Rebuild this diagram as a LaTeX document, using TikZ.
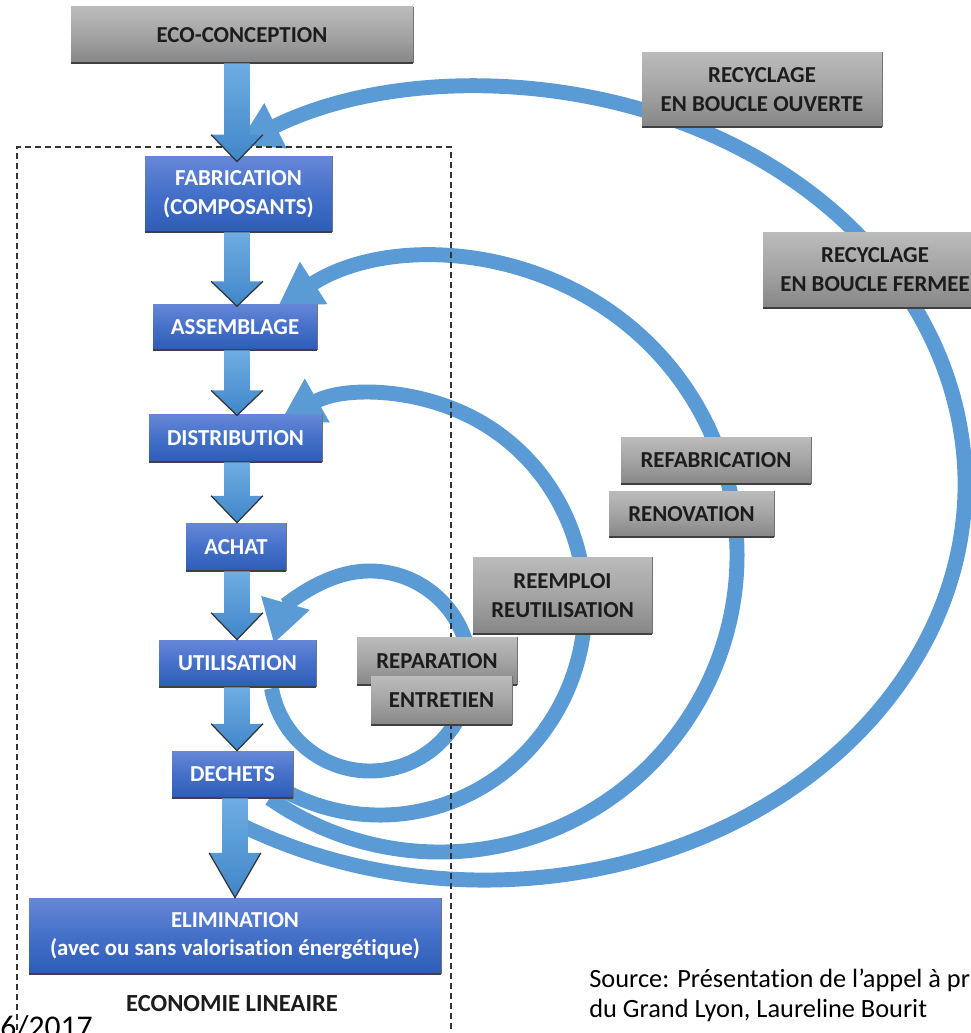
\documentclass[tikz,border=0pt]{standalone}
\usepackage{fontspec}
\setmainfont{Carlito}[Ligatures=NoCommon]
\usetikzlibrary{arrows.meta,calc}
\definecolor{arcblue}{HTML}{5B9BD5}
\definecolor{bluetop}{HTML}{6687D8}
\definecolor{bluemid}{HTML}{4470C8}
\definecolor{bluebot}{HTML}{2D5CB6}
\definecolor{graytop}{HTML}{BBBBBB}
\definecolor{graymid}{HTML}{A4A4A4}
\definecolor{graybot}{HTML}{868686}
\definecolor{arrtop}{HTML}{6FADE2}
\definecolor{arrbot}{HTML}{3F86C9}
\definecolor{darktext}{HTML}{1C1C1C}
\tikzset{
  boxtext/.style={font=\bfseries\fontsize{13}{16.4}\selectfont, align=center, inner sep=0pt},
  bluebox/.style={boxtext, top color=bluetop, bottom color=bluebot, middle color=bluemid, text=white},
  graybox/.style={boxtext, top color=graytop, bottom color=graybot, middle color=graymid, text=darktext},
  cyc/.style={draw=arcblue, line width=8.5pt, -{Triangle[width=27pt,length=24pt]}},
  frame/.style={draw=black!80, line width=0.7pt, dash pattern=on 3.4pt off 2.3pt},
  bedge/.style={draw=black!75, line width=1.1pt},
  redge/.style={draw=black!55, line width=0.5pt},
  headedge/.style={draw=black!80, line width=0.7pt},
}
\newcommand\boxedge[1]{\draw[bedge] (#1.south west) -- (#1.south east); \draw[redge] (#1.south east) -- (#1.north east);}
\newcommand\flowarr[5]{%
  \shade[top color=arrtop,bottom color=arrbot]
    let \p1=(#3,0 |- #1.south), \p2=(#3,0 |- #2.north) in
    (\x1-7.37pt,\y1) -- (\x1+7.37pt,\y1) -- (\x1+7.37pt,{\y2-#5+#4}) -- (\x1+14.74pt,{\y2-#5+#4})
    -- (\x1,{\y2-#5}) -- (\x1-14.74pt,{\y2-#5+#4}) -- (\x1-7.37pt,{\y2-#5+#4}) -- cycle;
  \draw[headedge]
    let \p1=(#3,0 |- #1.south), \p2=(#3,0 |- #2.north) in
    (\x1-14.74pt,{\y2-#5+#4}) -- (\x1,{\y2-#5}) -- (\x1+14.74pt,{\y2-#5+#4});
}
\begin{document}
\begin{tikzpicture}[x=0.02cm,y=0.02cm]
\useasboundingbox (0,0) rectangle (970,-1033);
% loop arcs
\coordinate (cD) at (485,-484);
\coordinate (cB) at (440,-555);
\coordinate (cA) at (380,-605);
\coordinate (cL) at (370,-671);
\draw[cyc] ($(cD)+(-120:480 and 396)$) arc[start angle=-120,end angle=121,x radius=480,y radius=396];
\draw[cyc] ($(cB)+(-125:297)$) arc[start angle=-125,end angle=123,radius=297];
\draw[cyc] ($(cA)+(-118:205 and 210)$) arc[start angle=-118,end angle=119,x radius=205,y radius=210];
\draw[cyc] ($(cL)+(190:100)$) arc[start angle=190,end angle=524,radius=100];
% linear economy frame
\draw[frame] (17,-1040) -- (17,-147) -- (451,-147) -- (451,-1040);
% gray boxes
\node[graybox, minimum width=4.8cm, minimum height=1.5cm] (ouv) at (762,-89.5) {RECYCLAGE\\EN BOUCLE OUVERTE};
\node[graybox, minimum width=4.48cm, minimum height=1.52cm] (fer) at (875,-270) {RECYCLAGE\\EN BOUCLE FERMEE};
\node[graybox, minimum width=3.8cm, minimum height=0.94cm] (refab) at (716,-460.5) {REFABRICATION};
\node[graybox, minimum width=3.3cm, minimum height=0.92cm] (renov) at (691.5,-514) {RENOVATION};
\node[graybox, minimum width=3.58cm, minimum height=1.54cm] (reemp) at (562.5,-595.5) {REEMPLOI\\REUTILISATION};
\node[graybox, minimum width=3.2cm, minimum height=0.96cm] (repar) at (437,-661) {REPARATION};
\boxedge{repar}
\node[graybox, minimum width=2.82cm, minimum height=0.98cm] (entr) at (441.5,-700.5) {ENTRETIEN};
\node[graybox, minimum width=6.84cm, minimum height=1.12cm] (eco) at (242,-35) {ECO-CONCEPTION};
\foreach \n in {ouv,fer,refab,renov,reemp,entr,eco} {\boxedge{\n}}
% blue boxes
\node[bluebox, minimum width=3.74cm, minimum height=1.52cm] (fab) at (238.5,-194) {FABRICATION\\(COMPOSANTS)};
\node[bluebox, minimum width=3.28cm, minimum height=0.92cm] (ass) at (235,-327) {ASSEMBLAGE};
\node[bluebox, minimum width=3.46cm, minimum height=0.96cm] (dist) at (235.5,-438) {DISTRIBUTION};
\node[bluebox, minimum width=2.0cm, minimum height=0.96cm] (achat) at (236,-547) {ACHAT};
\node[bluebox, minimum width=3.14cm, minimum height=0.94cm] (util) at (237.5,-663.5) {UTILISATION};
\node[bluebox, minimum width=2.42cm, minimum height=0.94cm] (dech) at (232.5,-774.5) {DECHETS};
\node[bluebox, minimum width=8.24cm, minimum height=1.52cm] (elim) at (235,-936) {ELIMINATION\\(avec ou sans valorisation énergétique)};
\foreach \n in {fab,ass,dist,achat,util,dech,elim} {\boxedge{\n}}
% straight flow arrows
\flowarr{eco}{fab}{237}{15.3pt}{3.4pt}
\flowarr{fab}{ass}{237}{14.2pt}{1.5pt}
\flowarr{ass}{dist}{237}{14.2pt}{1pt}
\flowarr{dist}{achat}{237}{15.3pt}{0pt}
\flowarr{achat}{util}{237}{15.3pt}{0pt}
\flowarr{util}{dech}{237}{15.3pt}{0pt}
\flowarr{dech}{elim}{235}{25.5pt}{0pt}
% texts
\node[font=\bfseries\fontsize{14}{17}\selectfont, text=darktext, inner sep=0pt] (econ) at (232,-1004) {ECONOMIE LINEAIRE};
\node[font=\fontsize{15}{18}\selectfont, anchor=base west, inner sep=0pt] (src1) at (589,-987) {Source: Présentation de l’appel à pr};
\node[font=\fontsize{15}{18}\selectfont, anchor=base west, inner sep=0pt] (src2) at (589,-1017) {du Grand Lyon, Laureline Bourit};
\node[font=\fontsize{18}{20}\selectfont, anchor=base east, inner sep=0pt] (date) at (93,-1037) {06/2017};
\end{tikzpicture}
\end{document}
